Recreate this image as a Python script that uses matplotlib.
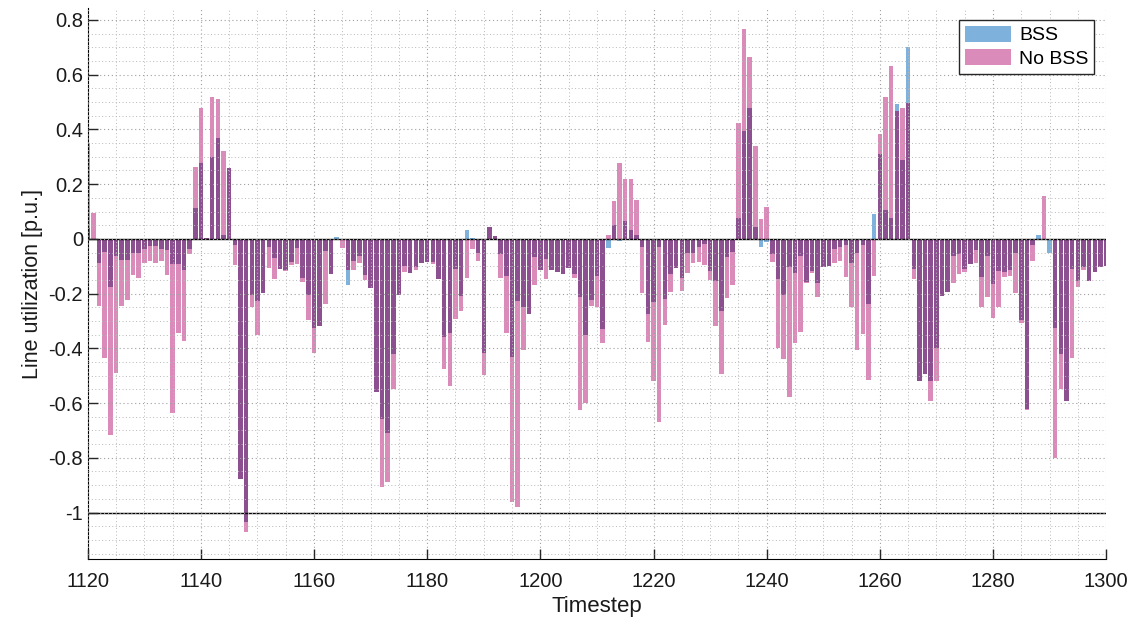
import numpy as np
import matplotlib.pyplot as plt
from matplotlib.ticker import MultipleLocator

plt.rcParams['font.family'] = ['Liberation Sans', 'DejaVu Sans']
plt.rcParams['axes.unicode_minus'] = False

timestep = np.arange(1120, 1301)

# line utilization with battery storage (BSS)
bss = [0.04, 0.0, -0.087, -0.047, -0.177, -0.064, -0.077, -0.077, -0.053, -0.053,
       -0.037, -0.027, -0.027, -0.037, -0.04, -0.093, -0.093, -0.113, -0.037, 0.112,
       0.276, 0.005, 0.30, 0.37, 0.016, 0.26, -0.024, -0.876, -1.036, -0.204,
       -0.228, -0.197, -0.03, -0.07, -0.11, -0.115, -0.084, -0.035, -0.144, -0.204,
       -0.324, -0.317, -0.044, -0.128, 0.006, 0.0, -0.168, -0.081, -0.064, -0.133,
       -0.181, -0.559, -0.659, -0.71, -0.419, -0.206, -0.1, -0.126, -0.104, -0.087,
       -0.085, -0.084, -0.148, -0.357, -0.343, -0.11, -0.21, 0.033, 0.005, -0.053,
       -0.417, 0.045, 0.009, -0.055, -0.137, -0.43, -0.228, -0.248, -0.273, -0.068,
       -0.113, -0.073, -0.115, -0.12, -0.128, -0.108, -0.13, -0.214, -0.35, -0.224,
       -0.137, -0.328, -0.033, 0.049, -0.008, 0.065, 0.032, 0.016, -0.03, -0.273,
       -0.23, -0.028, -0.22, -0.13, -0.108, -0.144, -0.05, -0.05, -0.028, -0.02,
       -0.117, -0.154, -0.264, -0.067, -0.047, 0.076, 0.393, 0.48, 0.043, -0.028,
       -0.012, -0.057, -0.148, -0.204, -0.101, -0.124, -0.061, -0.157, -0.117, -0.16,
       -0.104, -0.1, -0.037, -0.028, -0.024, -0.087, -0.05, -0.024, -0.237, 0.092,
       0.309, 0.107, 0.076, 0.493, 0.289, 0.70, -0.11, -0.52, -0.493, -0.52,
       -0.397, -0.21, -0.194, -0.064, -0.057, -0.11, -0.09, -0.041, -0.14, -0.061,
       -0.164, -0.117, -0.121, -0.115, -0.053, -0.297, -0.623, -0.024, 0.016, 0.0,
       -0.053, -0.324, -0.419, -0.593, -0.11, -0.153, -0.104, -0.154, -0.121, -0.104,
       -0.1]

# line utilization without battery storage
no_bss = [0.35, 0.096, -0.246, -0.437, -0.716, -0.49, -0.244, -0.224, -0.133, -0.144,
          -0.088, -0.08, -0.087, -0.08, -0.133, -0.636, -0.343, -0.373, -0.057, 0.262,
          0.48, 0.005, 0.52, 0.51, 0.32, 0.26, -0.097, -0.876, -1.07, -0.25,
          -0.353, -0.197, -0.107, -0.146, -0.11, -0.117, -0.097, -0.09, -0.157, -0.297,
          -0.417, -0.317, -0.237, -0.128, 0.0, -0.033, -0.115, -0.115, -0.087, -0.15,
          -0.181, -0.559, -0.905, -0.89, -0.547, -0.206, -0.121, -0.126, -0.113, -0.087,
          -0.085, -0.09, -0.148, -0.474, -0.539, -0.293, -0.264, -0.144, -0.037, -0.08,
          -0.497, 0.045, 0.009, -0.144, -0.343, -0.96, -0.98, -0.406, -0.273, -0.168,
          -0.113, -0.146, -0.115, -0.12, -0.128, -0.108, -0.144, -0.626, -0.6, -0.244,
          -0.25, -0.38, 0.013, 0.138, 0.276, 0.218, 0.218, 0.141, -0.197, -0.377,
          -0.52, -0.67, -0.314, -0.193, -0.108, -0.19, -0.124, -0.087, -0.084, -0.097,
          -0.15, -0.317, -0.493, -0.217, -0.17, 0.422, 0.768, 0.666, 0.338, 0.072,
          0.116, -0.084, -0.397, -0.44, -0.577, -0.381, -0.34, -0.161, -0.126, -0.214,
          -0.104, -0.1, -0.087, -0.081, -0.14, -0.248, -0.407, -0.348, -0.514, -0.137,
          0.382, 0.518, 0.633, 0.469, 0.478, 0.498, -0.148, -0.52, -0.493, -0.593,
          -0.52, -0.21, -0.194, -0.161, -0.13, -0.121, -0.09, -0.087, -0.248, -0.214,
          -0.29, -0.248, -0.141, -0.137, -0.197, -0.306, -0.627, -0.081, 0.0, 0.156,
          0.0, -0.8, -0.55, -0.593, -0.437, -0.177, -0.113, -0.154, -0.121, -0.104,
          -0.1]

b = np.array(bss)
n = np.array(no_bss)
# part where both bars cover each other
same = np.sign(b) == np.sign(n)
overlap = np.where(same, np.sign(b) * np.minimum(np.abs(b), np.abs(n)), 0)

c_bss = '#7eb2dc'
c_nobss = '#da8bb9'
c_both = '#8c4f90'

fig = plt.figure(figsize=(11.38, 6.32), dpi=100)
ax = fig.add_axes([0.0771, 0.115, 0.8949, 0.872])

h2 = ax.bar(timestep, n, width=0.8, color=c_nobss, label='No BSS')
h1 = ax.bar(timestep, b, width=0.8, color=c_bss, label='BSS')
ax.bar(timestep, overlap, width=0.8, color=c_both)

ax.axhline(0, color='black', lw=1.0)
ax.axhline(-1, color='black', lw=1.0)

ax.set_xlim(1120, 1300)
ax.set_ylim(-1.171, 0.843)
ax.set_xticks(np.arange(1120, 1301, 20))
ax.set_yticks([0.8, 0.6, 0.4, 0.2, 0, -0.2, -0.4, -0.6, -0.8, -1])
ax.set_yticklabels(['0.8', '0.6', '0.4', '0.2', '0', '-0.2', '-0.4', '-0.6', '-0.8', '-1'])
ax.xaxis.set_minor_locator(MultipleLocator(5))
ax.yaxis.set_minor_locator(MultipleLocator(0.05))

ax.set_axisbelow(False)
ax.grid(True, which='major', linestyle=(0, (1, 2.5)), color='#a0a0a0', lw=0.8)
ax.grid(True, which='minor', linestyle=(0, (1, 2.5)), color='#b8b8b8', lw=0.7)

ax.spines['top'].set_visible(False)
ax.spines['right'].set_visible(False)
ax.tick_params(which='major', direction='in', length=7.5, width=1, labelsize=14.5,
               colors='#262626', labelcolor='#1a1a1a')
ax.tick_params(which='minor', length=0)
ax.tick_params(axis='x', pad=9)

ax.set_xlabel('Timestep', fontsize=16, color='#1a1a1a', labelpad=4)
ax.set_ylabel('Line utilization [p.u.]', fontsize=15.5, color='#1a1a1a', labelpad=4)

leg = ax.legend(handles=[h1, h2], loc='upper right', fontsize=14, frameon=True,
                fancybox=False, edgecolor='#262626', framealpha=1,
                handlelength=2.4, handleheight=0.9, borderaxespad=0.6,
                borderpad=0.3, labelspacing=0.25, handletextpad=0.4)
leg.get_frame().set_linewidth(1)

fig.savefig('out.png', dpi=100)
